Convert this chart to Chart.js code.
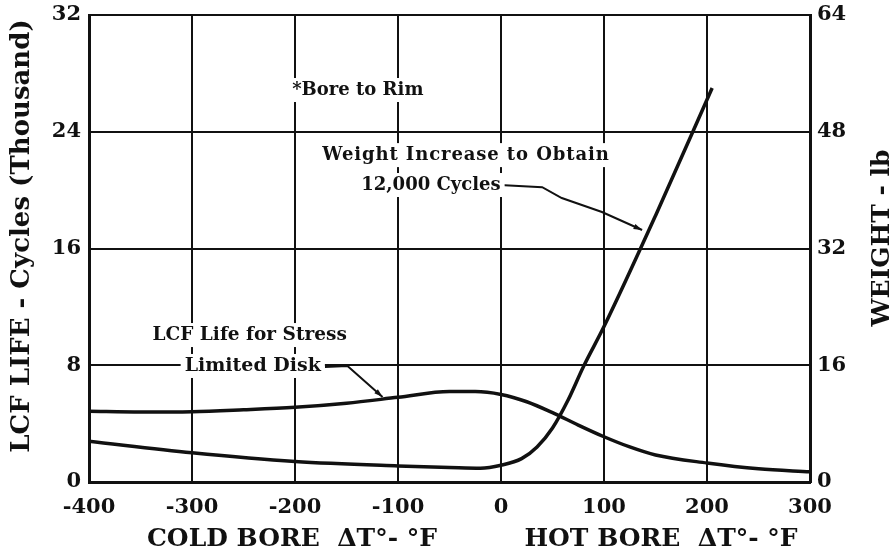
<!DOCTYPE html>
<html>
<head>
<meta charset="utf-8">
<script src="https://cdn.jsdelivr.net/npm/chart.js@4.4.1/dist/chart.umd.min.js"></script>
<style>
  html, body { margin: 0; padding: 0; background: #fff; }
  #wrap { width: 895px; height: 553px; }
</style>
</head>
<body>
<div id="wrap"><canvas id="myChart" width="895" height="553"></canvas></div>
<script>
// Bore-to-rim temperature difference, deg F
var lifeTemps = [-400, -350, -300, -250, -200, -150, -100, -50, -25, 0, 25, 50, 75, 100, 125, 150, 200, 250, 300];
// LCF life, thousand cycles (left axis)
var lifeCycles = [4.85, 4.8, 4.82, 4.95, 5.12, 5.4, 5.8, 6.2, 6.2, 6.0, 5.5, 4.75, 3.9, 3.1, 2.4, 1.85, 1.3, 0.9, 0.7];

var weightTemps = [-400, -300, -200, -100, -50, -20, 0, 20, 35, 50, 65, 80, 100, 150, 205];
// weight increase to obtain 12,000 cycles, lb (right axis)
var weightLb = [5.6, 4.0, 2.8, 2.2, 2.0, 1.9, 2.3, 3.2, 4.8, 7.4, 11.2, 15.8, 21.3, 36.5, 54.0];

var lifeTicks = [0, 8, 16, 24, 32];
var weightTicks = [0, 16, 32, 48, 64];

var serif = "'DejaVu Serif', 'Liberation Serif', serif";
var ink = '#111';

function toPoints(xs, ys) {
    var pts = [];
    for (var i = 0; i < xs.length; i++) {
        pts.push({ x: xs[i], y: ys[i] });
    }
    return pts;
}

// Text with a white box behind it
function boxedText(ctx, text, px, py, font, spacing) {
    ctx.font = font;
    ctx.letterSpacing = (spacing || 0) + 'px';
    var w = ctx.measureText(text).width;
    ctx.fillStyle = '#fff';
    ctx.fillRect(px - w / 2 - 4, py - 12, w + 8, 24);
    ctx.fillStyle = ink;
    ctx.fillText(text, px, py);
    ctx.letterSpacing = '0px';
}

var labelsPlugin = {
    id: 'labels',
    afterDatasetsDraw: function (chart) {
        var ctx = chart.ctx;
        var x = chart.scales.x;
        var y = chart.scales.y;
        ctx.save();
        ctx.textAlign = 'center';
        ctx.textBaseline = 'middle';

        // leader lines (in data units)
        ctx.strokeStyle = ink;
        ctx.lineWidth = 2;
        var lead1 = [[-1, 20.35], [40, 20.2], [59, 19.46], [98, 18.5], [137, 17.27]];
        var lead2 = [[-171, 7.88], [-149, 7.95], [-115, 5.82]];
        [lead1, lead2].forEach(function (pts) {
            ctx.beginPath();
            pts.forEach(function (p, i) {
                var px = x.getPixelForValue(p[0]);
                var py = y.getPixelForValue(p[1]);
                if (i === 0) ctx.moveTo(px, py); else ctx.lineTo(px, py);
            });
            ctx.stroke();
        });
        // arrow heads
        [[lead1[3], lead1[4]], [lead2[1], lead2[2]]].forEach(function (seg) {
            var ax = x.getPixelForValue(seg[0][0]), ay = y.getPixelForValue(seg[0][1]);
            var bx = x.getPixelForValue(seg[1][0]), by = y.getPixelForValue(seg[1][1]);
            var ang = Math.atan2(by - ay, bx - ax);
            ctx.beginPath();
            ctx.moveTo(bx, by);
            ctx.lineTo(bx - 9 * Math.cos(ang - 0.3), by - 9 * Math.sin(ang - 0.3));
            ctx.lineTo(bx - 9 * Math.cos(ang + 0.3), by - 9 * Math.sin(ang + 0.3));
            ctx.closePath();
            ctx.fillStyle = ink;
            ctx.fill();
        });

        var f = 'bold 18px ' + serif;
        boxedText(ctx, '*Bore to Rim', x.getPixelForValue(-139), y.getPixelForValue(26.86), f);
        boxedText(ctx, 'Weight Increase to Obtain', x.getPixelForValue(-34), y.getPixelForValue(22.4), f, 0.9);
        boxedText(ctx, '12,000 Cycles', x.getPixelForValue(-68), y.getPixelForValue(20.35), f);
        boxedText(ctx, 'LCF Life for Stress', x.getPixelForValue(-244), y.getPixelForValue(10.07), 'bold 18.5px ' + serif);
        boxedText(ctx, 'Limited Disk', x.getPixelForValue(-241), y.getPixelForValue(7.95), 'bold 19px ' + serif);

        // axis titles
        ctx.fillStyle = ink;
        ctx.font = 'bold 25px ' + serif;
        ctx.fillText('COLD BORE  \u0394T\u00b0- \u00b0F', 292, 539);
        ctx.fillText('HOT BORE  \u0394T\u00b0- \u00b0F', 661, 539);

        ctx.font = 'bold 26px ' + serif;
        ctx.translate(22, 236);
        ctx.rotate(-Math.PI / 2);
        ctx.fillText('LCF LIFE - Cycles (Thousand)', 0, 0);
        ctx.restore();

        ctx.save();
        ctx.fillStyle = ink;
        ctx.textAlign = 'center';
        ctx.textBaseline = 'middle';
        ctx.font = 'bold 25px ' + serif;
        ctx.translate(882, 238);
        ctx.rotate(-Math.PI / 2);
        ctx.fillText('WEIGHT - lb', 0, 0);
        ctx.restore();
    }
};

var tickFont = { family: serif, size: 21, weight: 'bold' };

var ctx = document.getElementById('myChart').getContext('2d');
var myChart = new Chart(ctx, {
    type: 'line',
    data: {
        datasets: [{
            label: 'LCF Life for Stress Limited Disk',
            data: toPoints(lifeTemps, lifeCycles),
            yAxisID: 'y',
            borderColor: ink,
            borderWidth: 3.5,
            pointRadius: 0,
            fill: false,
            cubicInterpolationMode: 'monotone'
        }, {
            label: 'Weight Increase to Obtain 12,000 Cycles',
            data: toPoints(weightTemps, weightLb),
            yAxisID: 'y1',
            borderColor: ink,
            borderWidth: 3.5,
            pointRadius: 0,
            fill: false,
            cubicInterpolationMode: 'monotone'
        }]
    },
    options: {
        responsive: false,
        animation: false,
        devicePixelRatio: 1,
        layout: { padding: { top: 15, left: 0, right: 0, bottom: 0 } },
        plugins: {
            legend: { display: false },
            tooltip: { enabled: false }
        },
        scales: {
            x: {
                type: 'linear',
                min: -400,
                max: 300,
                ticks: { stepSize: 100, color: ink, font: tickFont, padding: 13, maxRotation: 0 },
                grid: { color: ink, lineWidth: 2, drawTicks: false },
                border: { color: ink, width: 3 },
                afterFit: function (s) { s.height = 71; s.paddingLeft = 0; s.paddingRight = 0; }
            },
            y: {
                position: 'left',
                min: 0,
                max: 32,
                afterBuildTicks: function (s) { s.ticks = lifeTicks.map(function (v) { return { value: v }; }); },
                ticks: { color: ink, font: tickFont, padding: 8 },
                grid: { color: ink, lineWidth: 2, drawTicks: false },
                border: { color: ink, width: 3 },
                afterFit: function (s) { s.width = 89; s.paddingTop = 0; s.paddingBottom = 0; }
            },
            y1: {
                position: 'right',
                min: 0,
                max: 64,
                afterBuildTicks: function (s) { s.ticks = weightTicks.map(function (v) { return { value: v }; }); },
                ticks: { color: ink, font: tickFont, padding: 7 },
                grid: { display: false, drawTicks: false },
                border: { color: ink, width: 3 },
                afterFit: function (s) { s.width = 85; s.paddingTop = 0; s.paddingBottom = 0; }
            }
        }
    },
    plugins: [labelsPlugin]
});
</script>
</body>
</html>
